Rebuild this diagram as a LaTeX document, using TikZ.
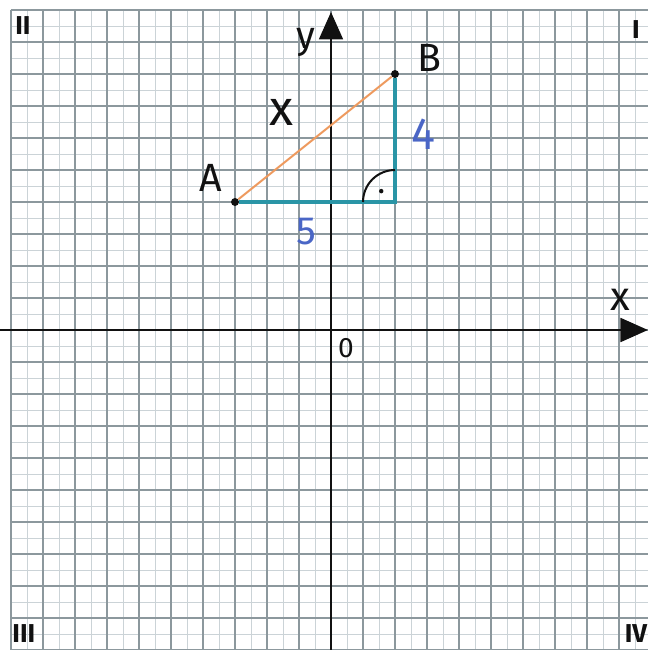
\documentclass[tikz,border=0pt]{standalone}
\usepackage{fontspec}
\setmainfont{Fira Sans}
\usetikzlibrary{calc, arrows.meta}
\definecolor{gridmajor}{HTML}{8C989D}
\definecolor{gridminor}{HTML}{CBD3D7}
\definecolor{hypo}{HTML}{EE9A5E}
\definecolor{legteal}{HTML}{2A95A6}
\definecolor{numblue}{HTML}{4A66C6}
\definecolor{ink}{HTML}{111111}

\begin{document}
\begin{tikzpicture}[
    >={Triangle[length=0.86cm, width=0.74cm]},
    dot/.style={circle, fill=ink, inner sep=0pt, minimum size=0.25cm},
    lbl/.style={text=ink, inner sep=0pt},
    quad/.style={text=ink, inner sep=0pt, font=\fontsize{23}{23}\selectfont\bfseries}
]

    % Page frame
    \useasboundingbox (-10.34375,-10) rectangle (9.90625,10.3125);
    \fill[white] (-10.34375,-10) rectangle (9.90625,10.3125);

    % Squared paper
    \draw[gridminor, line width=0.7pt, step=0.5] (-10,-10) grid (9.90625,10);
    \draw[gridmajor, line width=1.4pt, step=1] (-10,-10) grid (9.90625,10);

    % Axes
    \draw[->, ink, line width=2.6pt] (-10.34375,0) -- (9.90625,0);
    \draw[->, ink, line width=2.6pt] (0,-10) -- (0,9.94);
    \node[lbl, font=\fontsize{36}{36}\selectfont] (xlab) at (9.03,0.95) {x};
    \node[lbl, font=\fontsize{34}{34}\selectfont] (ylab) at (-0.78,9.0) {y};
    \node[lbl, font=\fontsize{25}{25}\selectfont] (orig) at (0.47,-0.56) {0};

    % Quadrants
    \node[quad] (qII) at (-9.63,9.53) {II};
    \node[quad] (qI) at (9.53,9.375) {I};
    \node[quad] (qIII) at (-9.6,-9.5) {III};
    \node[quad] (qIV) at (9.53,-9.5) {IV};

    % Triangle
    \node[dot] (A) at (-3,4) {};
    \node[dot] (B) at (2,8) {};
    \coordinate (C) at (2,4);
    \draw[legteal, line width=3pt] (A) -- (C) -- (B);
    \draw[hypo, line width=1.8pt] (A) -- (B);

    % Right angle
    \draw[ink, line width=1.8pt] ($(C)+(-1,0)$) arc (180:90:1);
    \fill[ink] ($(C)+(-0.43,0.34)$) circle (0.07);

    % Labels
    \node[lbl, font=\fontsize{35}{35}\selectfont] (Alab) at (-3.75,4.75) {A};
    \node[lbl, font=\fontsize{35}{35}\selectfont] (Blab) at (3.09,8.5) {B};
    \node[lbl, font=\fontsize{44}{44}\selectfont] (xhyp) at (-1.56,6.81) {x};
    \node[lbl, text=numblue, font=\fontsize{40}{40}\selectfont] (four) at (2.88,6.13) {4};
    \node[lbl, text=numblue, font=\fontsize{35}{35}\selectfont] (five) at (-0.78,3.09) {5};

\end{tikzpicture}
\end{document}
